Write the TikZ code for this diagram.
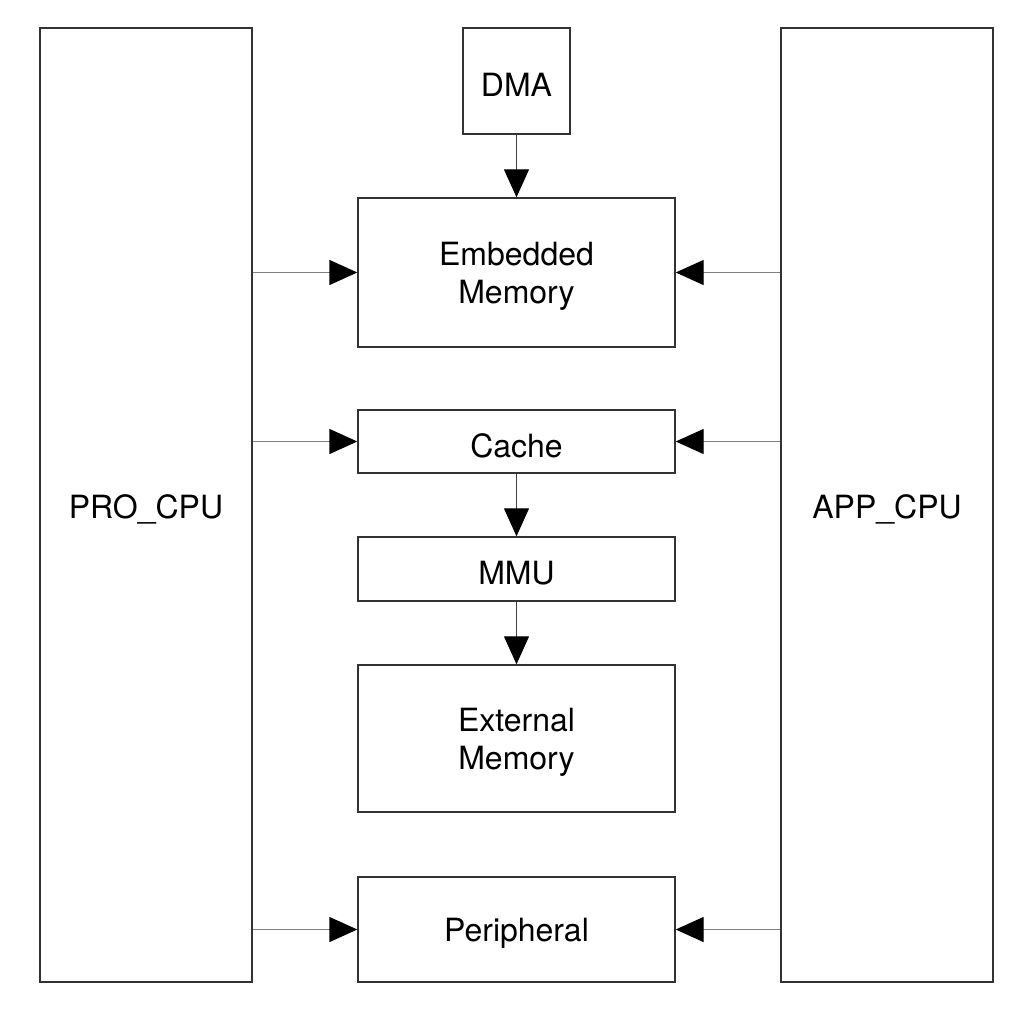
\documentclass[tikz,border=0pt]{standalone}
\usepackage{fontspec}
\setmainfont{TeX Gyre Heros}
\usetikzlibrary{arrows.meta}
\newcommand{\lowr}[1]{\raisebox{-4pt}[\height][\depth]{#1}}
\begin{document}
\begin{tikzpicture}[x=1pt,y=-1pt,
  blk/.style={draw=black!80, line width=1.4pt, inner sep=0pt, align=center,
    font=\fontsize{32}{38}\selectfont},
  conn/.style={draw=black!50, line width=1.4pt,
    -{Triangle[length=28pt,width=25pt,fill=black,color=black]}},
  vconn/.style={draw=black!75, line width=1.2pt,
    -{Triangle[length=28pt,width=25pt,fill=black,color=black]}}]
\useasboundingbox (0,0) rectangle (1024,1008);
\node[blk, minimum width=212pt, minimum height=954pt] (pro) at (146,505) {\lowr{PRO\_CPU}};
\node[blk, minimum width=212pt, minimum height=954pt] (app) at (887,505) {\lowr{APP\_CPU}};
\node[blk, minimum width=107pt, minimum height=106pt] (dma) at (516.5,81) {\lowr{DMA}};
\node[blk, minimum width=317pt, minimum height=149pt] (emb) at (516.5,272.5) {\lowr{Embedded}\\\lowr{Memory}};
\node[blk, minimum width=317pt, minimum height=63pt] (cache) at (516.5,441.5) {\lowr{Cache}};
\node[blk, minimum width=317pt, minimum height=64pt] (mmu) at (516.5,569) {\lowr{MMU}};
\node[blk, minimum width=317pt, minimum height=147pt] (ext) at (516.5,738.5) {\lowr{External}\\\lowr{Memory}};
\node[blk, minimum width=317pt, minimum height=105pt] (per) at (516.5,929.5) {\lowr{Peripheral}};
\draw[vconn] (dma) -- (emb);
\draw[vconn] (cache) -- (mmu);
\draw[vconn] (mmu) -- (ext);
\draw[conn] (pro.east |- emb.west) -- (emb.west);
\draw[conn] (pro.east |- cache.west) -- (cache.west);
\draw[conn] (pro.east |- per.west) -- (per.west);
\draw[conn] (app.west |- emb.east) -- (emb.east);
\draw[conn] (app.west |- cache.east) -- (cache.east);
\draw[conn] (app.west |- per.east) -- (per.east);
\end{tikzpicture}
\end{document}
